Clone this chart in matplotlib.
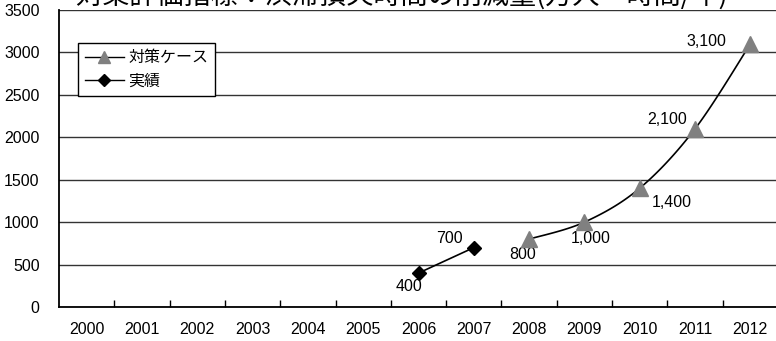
import numpy as np
import matplotlib
matplotlib.use("Agg")
import matplotlib.pyplot as plt

plt.rcParams['font.family'] = ['Liberation Sans', 'Noto Sans CJK JP']

years = [str(y) for y in range(2000, 2013)]
case_years = [2008, 2009, 2010, 2011, 2012]
case_values = [800, 1000, 1400, 2100, 3100]
actual_years = [2006, 2007]
actual_values = [400, 700]

title = "対策評価指標：渋滞損失時間の削減量(万人・時間/年)"
case_label = "対策ケース"
actual_label = "実績"

# label offsets in pixels (dx, dy), y up
case_offsets = [(-6, -15), (6, -16), (32, -14), (-28, 9), (-44, 2)]
actual_offsets = [(-10, -13), (-24, 9)]


def smooth(xs, ys, n=30):
    # Catmull-Rom curve through the points, like a spreadsheet "smoothed line"
    pts = np.column_stack([xs, ys]).astype(float)
    ext = np.vstack([pts[0], pts, pts[-1]])
    out = []
    for i in range(1, len(ext) - 2):
        p0, p1, p2, p3 = ext[i - 1], ext[i], ext[i + 1], ext[i + 2]
        c1 = p1 + (p2 - p0) / 6
        c2 = p2 - (p3 - p1) / 6
        t = np.linspace(0, 1, n)[:, None]
        seg = ((1 - t) ** 3) * p1 + 3 * ((1 - t) ** 2) * t * c1 + 3 * (1 - t) * t ** 2 * c2 + t ** 3 * p2
        out.append(seg if i == 1 else seg[1:])
    out = np.vstack(out)
    return out[:, 0], out[:, 1]


fig = plt.figure(figsize=(7.76, 3.41), dpi=100)
ax = fig.add_axes([59 / 776, 34 / 341, 719 / 776, 297 / 341])

xc = [y - 2000 for y in case_years]
xa = [y - 2000 for y in actual_years]

sx, sy = smooth(xc, case_values)
ax.plot(sx, sy, color='black', lw=1.2, zorder=3)
ax.plot(xc, case_values, ls='none', marker='^', ms=11, color='#808080', zorder=4)
ax.plot(xa, actual_values, color='black', lw=1.2, marker='D', ms=7.5,
        markerfacecolor='black', zorder=4)

for x, v, (dx, dy) in zip(xc, case_values, case_offsets):
    ax.annotate(f"{v:,}", (x, v), xytext=(dx, dy), textcoords='offset pixels',
                ha='center', va='center', fontsize=11.5)
for x, v, (dx, dy) in zip(xa, actual_values, actual_offsets):
    ax.annotate(f"{v:,}", (x, v), xytext=(dx, dy), textcoords='offset pixels',
                ha='center', va='center', fontsize=11.5)

ax.set_xlim(-0.5, 12.5)
ax.set_ylim(0, 3500)
ax.set_yticks(range(0, 3501, 500))
ax.set_xticks(range(13))
ax.set_xticklabels(years)
ax.set_xticks(np.arange(0.5, 12.5, 1), minor=True)
ax.tick_params(axis='x', which='major', length=0, pad=11, labelsize=11.5)
ax.tick_params(axis='x', which='minor', length=5, direction='in', width=1)
ax.tick_params(axis='y', length=0, pad=14, labelsize=11.5)

ax.grid(axis='y', color='#333333', lw=1)
ax.set_axisbelow(True)
for s in ['top', 'right']:
    ax.spines[s].set_visible(False)
for s in ['left', 'bottom']:
    ax.spines[s].set_linewidth(1.3)
    ax.spines[s].set_color('black')

h1 = plt.Line2D([], [], color='black', lw=1, marker='^', ms=9, markerfacecolor='#808080',
                markeredgecolor='#808080')
h2 = plt.Line2D([], [], color='black', lw=1, marker='D', ms=6.5, markerfacecolor='black')
leg = fig.legend([h1, h2], [case_label, actual_label], loc='upper left',
                 bbox_to_anchor=(78 / 776, 1 - 43 / 341), fontsize=11.5,
                 fancybox=False, edgecolor='black', framealpha=1, borderaxespad=0,
                 handlelength=2.4, handletextpad=0.3, borderpad=0.45, labelspacing=0.55)
leg.get_frame().set_linewidth(1)

fig.text(75 / 776, 1 + 4 / 341, title, ha='left', va='center', fontsize=19.5,
         family=['Noto Sans CJK JP', 'DejaVu Sans'])

fig.savefig('out.png', dpi=100)
